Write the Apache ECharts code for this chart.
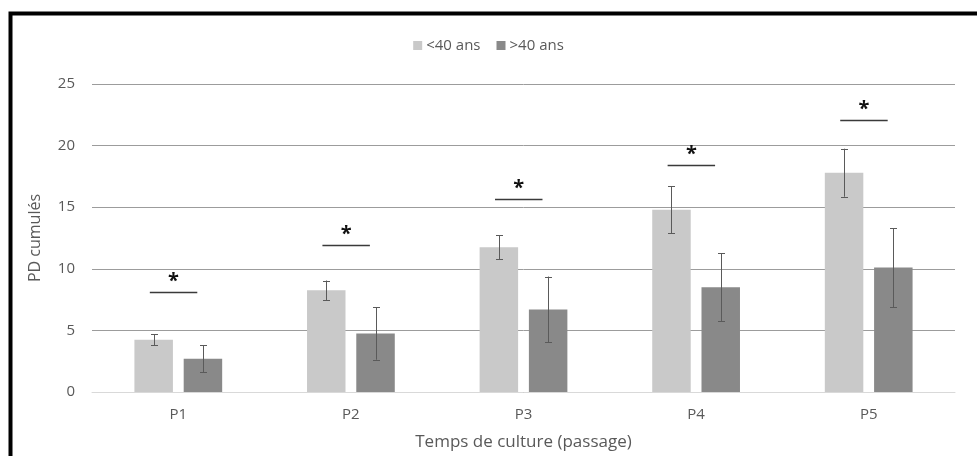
<!DOCTYPE html>
<html>
<head>
<meta charset="utf-8">
<script src="https://cdn.jsdelivr.net/npm/echarts@6/dist/echarts.min.js"></script>
<style>html,body{margin:0;padding:0;background:#fff;}#c{width:977px;height:456px;}</style>
</head>
<body>
<div id="c"></div>
<script>
const categories = ['P1', 'P2', 'P3', 'P4', 'P5'];
const seriesNames = ['<40 ans', '>40 ans'];
const youngMean = [4.25, 8.25, 11.75, 14.8, 17.8];
const youngErr = [0.45, 0.8, 0.98, 1.9, 1.95];
const oldMean = [2.7, 4.75, 6.7, 8.5, 10.1];
const oldErr = [1.08, 2.13, 2.67, 2.75, 3.2];
const sigLevels = [8.15, 11.9, 15.7, 18.45, 22.05];
const sigLabels = ['*', '*', '*', '*', '*'];

const FONT = 'Open Sans';
const TXT = '#595959';
const BAR_W = 0.223;
const BAR_GAP = 0.28;

function errData(means, errs) {
  return means.map((m, i) => [i, m - errs[i], m + errs[i]]);
}

function errRender(side) {
  return function (params, api) {
    const i = api.value(0);
    const lo = api.coord([i, api.value(1)]);
    const hi = api.coord([i, api.value(2)]);
    const band = api.size([1, 0])[0];
    const bw = band * BAR_W;
    const off = (bw + bw * BAR_GAP) / 2 * side;
    const x = Math.round(lo[0] + off) + 0.5;
    const cap = 3.5;
    const st = { stroke: '#5a5a5a', lineWidth: 1 };
    return {
      type: 'group',
      children: [
        { type: 'line', shape: { x1: x, y1: lo[1], x2: x, y2: hi[1] }, style: st },
        { type: 'line', shape: { x1: x - cap, y1: Math.round(lo[1]) + 0.5, x2: x + cap, y2: Math.round(lo[1]) + 0.5 }, style: st },
        { type: 'line', shape: { x1: x - cap, y1: Math.round(hi[1]) + 0.5, x2: x + cap, y2: Math.round(hi[1]) + 0.5 }, style: st }
      ]
    };
  };
}

function sigRender(params, api) {
  const i = api.value(0);
  const p = api.coord([i, api.value(1)]);
  const band = api.size([1, 0])[0];
  const x1 = p[0] - band * 0.165;
  const x2 = p[0] + band * 0.11;
  const y = Math.round(p[1]) + 0.5;
  return {
    type: 'group',
    children: [
      { type: 'line', shape: { x1: x1, y1: y, x2: x2, y2: y }, style: { stroke: '#3a3a3a', lineWidth: 1.5 } },
      { type: 'text', style: { text: sigLabels[params.dataIndex], x: (x1 + x2) / 2, y: y - 21, fill: '#111', font: 'bold 20px "' + FONT + '"', textAlign: 'center', textVerticalAlign: 'top' } }
    ]
  };
}

const chart = echarts.init(document.getElementById('c'), null, { renderer: 'canvas' });
chart.setOption({
  animation: false,
  backgroundColor: '#fff',
  textStyle: { fontFamily: FONT },
  graphic: [{
    type: 'rect', silent: true, z: 100,
    shape: { x: 10.5, y: 13.5, width: 1200, height: 700 },
    style: { fill: 'none', stroke: '#000', lineWidth: 4 }
  }],
  legend: {
    top: 33, left: 'center',
    itemWidth: 9, itemHeight: 9, itemGap: 16,
    icon: 'rect',
    data: seriesNames,
    textStyle: { color: TXT, fontSize: 15, fontFamily: FONT, padding: [0, 0, 0, -1] }
  },
  grid: { left: 92, right: 22, top: 84, bottom: 63, containLabel: false },
  xAxis: {
    type: 'category', data: categories,
    name: 'Temps de culture (passage)', nameLocation: 'middle', nameGap: 42,
    nameTextStyle: { color: TXT, fontSize: 17, fontFamily: FONT },
    axisLine: { lineStyle: { color: '#d9d9d9', width: 1 } },
    axisTick: { show: false },
    axisLabel: { color: TXT, fontSize: 15, margin: 15, fontFamily: FONT }
  },
  yAxis: {
    type: 'value', min: 0, max: 25, interval: 5,
    name: 'PD cumulés', nameLocation: 'middle', nameGap: 49, nameRotate: 90,
    nameTextStyle: { color: TXT, fontSize: 16, fontFamily: FONT },
    axisLine: { show: false }, axisTick: { show: false },
    axisLabel: { color: TXT, fontSize: 15, margin: 17, fontFamily: FONT },
    splitLine: { lineStyle: { color: '#9c9c9c', width: 1 } }
  },
  series: [
    { name: seriesNames[0], type: 'bar', data: youngMean, barWidth: (BAR_W * 100) + '%', barGap: (BAR_GAP * 100) + '%', itemStyle: { color: '#c9c9c9' }, z: 2 },
    { name: seriesNames[1], type: 'bar', data: oldMean, barWidth: (BAR_W * 100) + '%', barGap: (BAR_GAP * 100) + '%', itemStyle: { color: '#898989' }, z: 2 },
    { type: 'custom', data: errData(youngMean, youngErr), renderItem: errRender(-1), z: 5, silent: true },
    { type: 'custom', data: errData(oldMean, oldErr), renderItem: errRender(1), z: 5, silent: true },
    { type: 'custom', data: sigLevels.map((v, i) => [i, v]), renderItem: sigRender, z: 6, silent: true }
  ]
});
</script>
</body>
</html>
